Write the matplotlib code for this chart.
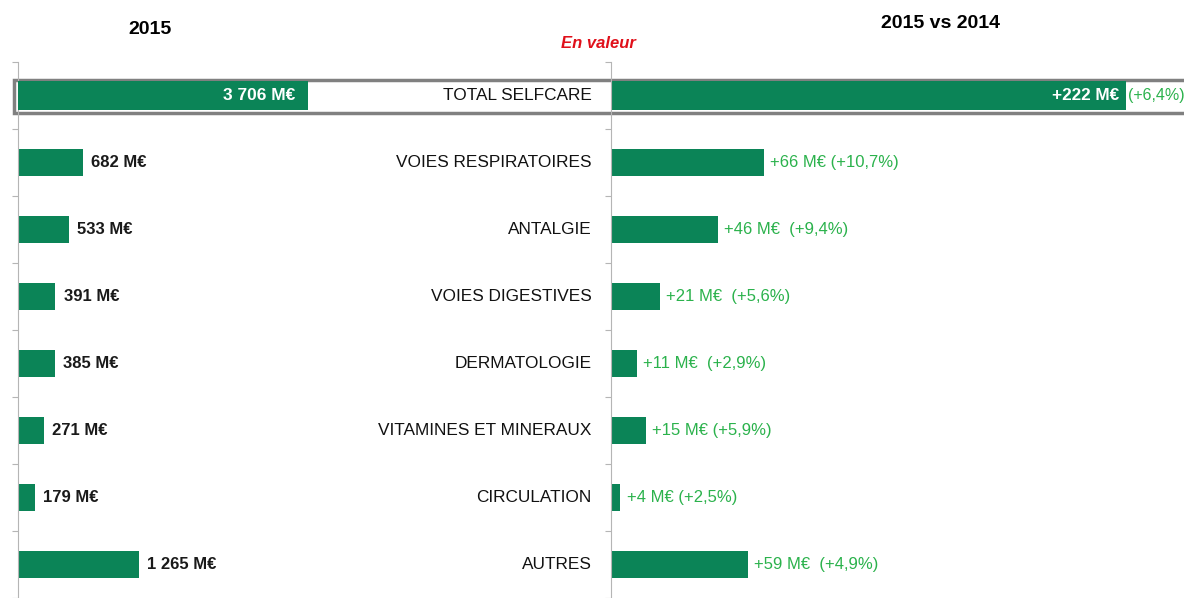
import matplotlib.pyplot as plt
from matplotlib.patches import Rectangle

categories = ["TOTAL SELFCARE", "VOIES RESPIRATOIRES", "ANTALGIE", "VOIES DIGESTIVES",
              "DERMATOLOGIE", "VITAMINES ET MINERAUX", "CIRCULATION", "AUTRES"]
val_2015 = [3706, 682, 533, 391, 385, 271, 179, 1265]
delta = [222, 66, 46, 21, 11, 15, 4, 59]
lab_2015 = ["3 706 M€", "682 M€", "533 M€", "391 M€", "385 M€", "271 M€", "179 M€", "1 265 M€"]
lab_delta = ["+222 M€", "+66 M€ (+10,7%)", "+46 M€  (+9,4%)", "+21 M€  (+5,6%)",
             "+11 M€  (+2,9%)", "+15 M€ (+5,9%)", "+4 M€ (+2,5%)", "+59 M€  (+4,9%)"]
lab_total_pct = "(+6,4%)"

GREEN = "#0b8457"
LGREEN = "#2bb24c"
plt.rcParams["font.family"] = ["Liberation Sans", "DejaVu Sans"]

W, H = 1184, 598
fig = plt.figure(figsize=(W / 100, H / 100), dpi=100)

top = 1 - 62 / H
ax_l = fig.add_axes([18 / W, 0, 593 / W, top], zorder=1)
ax_t = fig.add_axes([18 / W, 0, 593 / W, top], zorder=1)
ax_r = fig.add_axes([611 / W, 0, 573 / W, top], zorder=1)

n = len(categories)
ys = list(range(n))
for ax in (ax_l, ax_t, ax_r):
    ax.set_facecolor("none")
    ax.set_ylim(n - 0.5, -0.5)
    ax.set_xticks([])
    for s in ("top", "right", "bottom"):
        ax.spines[s].set_visible(False)
    ax.spines["left"].set_color("#b5b5b5")
    ax.set_yticks([i - 0.5 for i in range(n + 1)])
    ax.set_yticklabels([])
    ax.tick_params(axis="y", length=4, color="#b5b5b5", direction="out")
ax_t.spines["left"].set_visible(False)
ax_t.tick_params(axis="y", length=0)

# left panel: 2015 values (categories only, total on its own scale)
ax_l.set_xlim(0, 593 / 0.0953)
ax_l.barh(ys[1:], val_2015[1:], height=0.41, color=GREEN)
for y, v, t in zip(ys[1:], val_2015[1:], lab_2015[1:]):
    ax_l.annotate(t, (v, y), xytext=(6, 0), textcoords="offset points",
                  ha="left", va="center", fontsize=12, fontweight="bold", color="#1a1a1a")
for y, c in zip(ys, categories):
    ax_l.annotate(c, (1, y), xycoords=("axes fraction", "data"), xytext=(-14, 0),
                  textcoords="offset points", ha="right", va="center", fontsize=12.4, color="#111111")

# total 2015 bar, own scale
ax_t.set_xlim(0, val_2015[0] * 593 / 290)
ax_t.barh([ys[0]], [val_2015[0]], height=0.42, color=GREEN)
ax_t.annotate(lab_2015[0], (val_2015[0], ys[0]), xytext=(-9, 0), textcoords="offset points",
              ha="right", va="center", fontsize=12.5, fontweight="bold", color="white")

# right panel: 2015 vs 2014
ax_r.set_xlim(0, 573 / 2.32)
ax_r.barh(ys, delta, height=[0.42] + [0.41] * (n - 1), color=GREEN)
ax_r.annotate(lab_delta[0], (delta[0], ys[0]), xytext=(-5, 0), textcoords="offset points",
              ha="right", va="center", fontsize=12.3, fontweight="bold", color="white")
ax_r.annotate(lab_total_pct, (delta[0], ys[0]), xytext=(1.5, 0), textcoords="offset points",
              ha="left", va="center", fontsize=11.5, color=LGREEN)
for y, v, t in zip(ys[1:], delta[1:], lab_delta[1:]):
    ax_r.annotate(t, (v, y), xytext=(4.5, 0), textcoords="offset points",
                  ha="left", va="center", fontsize=12, color=LGREEN)

# frame around total row
fig.patches.append(Rectangle((14 / W, 1 - 113 / H), 1.0, 33 / H, transform=fig.transFigure,
                             facecolor="white", edgecolor="#808080", linewidth=2.5, zorder=0))

fig.text(150 / W, 1 - 30 / H, "2015", ha="center", va="center", fontsize=14, fontweight="bold")
fig.text(940 / W, 1 - 24 / H, "2015 vs 2014", ha="center", va="center", fontsize=14, fontweight="bold")
fig.text(598 / W, 1 - 43 / H, "En valeur", ha="center", va="center", fontsize=12,
         fontweight="bold", fontstyle="italic", color="#e0101a")

fig.savefig("out.png", dpi=100)
